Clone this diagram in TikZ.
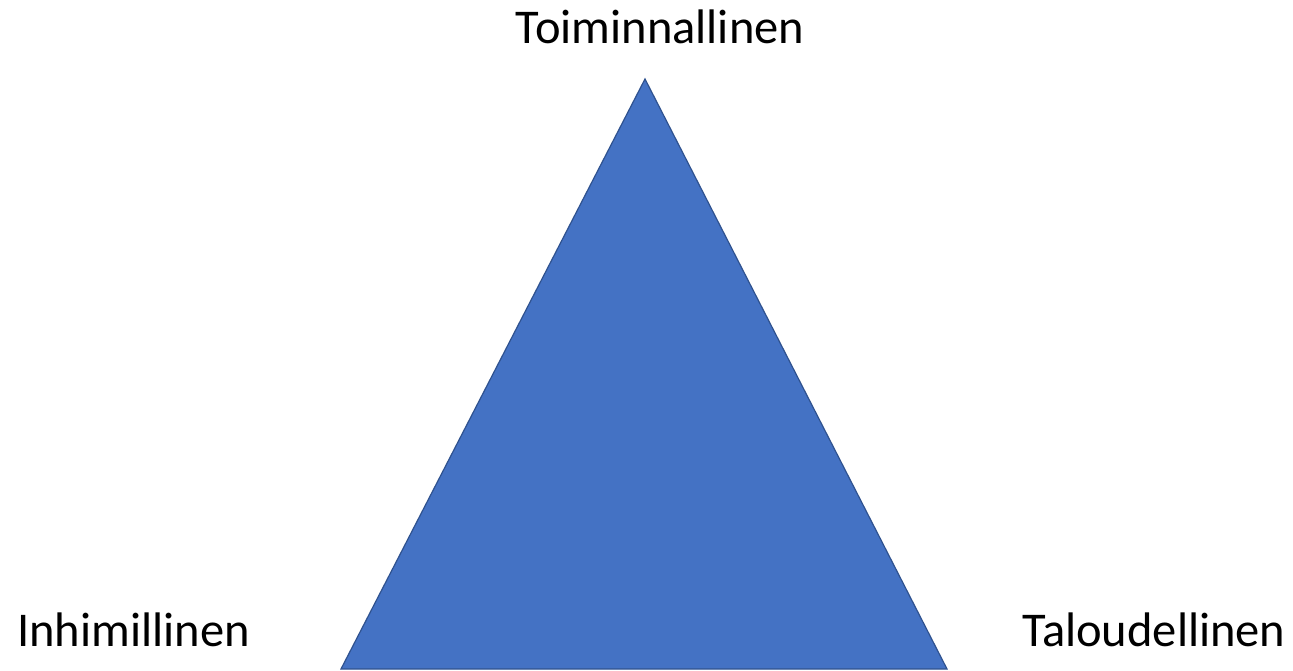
\documentclass[tikz,border=0pt]{standalone}
\usepackage{fontspec}
\setmainfont{Carlito}
\definecolor{trifill}{HTML}{4472C4}
\definecolor{triedge}{HTML}{2F528F}
\begin{document}
\begin{tikzpicture}[x=1pt,y=-1pt,
  lbl/.style={inner sep=0pt,font=\fontsize{48.5}{54}\selectfont,text=black}]
\useasboundingbox[fill=white] (0,0) rectangle (1293,671);
\coordinate (apex) at (645,79);
\coordinate (bl) at (341,669);
\coordinate (br) at (947,669);
\fill[trifill,draw=triedge,line width=1.2pt,line join=miter] (apex) -- (br) -- (bl) -- cycle;
\node[lbl,anchor=base] (top) at (660,44) {Toiminnallinen};
\node[lbl,anchor=base west] (left) at (17,646) {Inhimillinen};
\node[lbl,anchor=base west] (right) at (1022,646) {Taloudellinen};
\end{tikzpicture}
\end{document}
